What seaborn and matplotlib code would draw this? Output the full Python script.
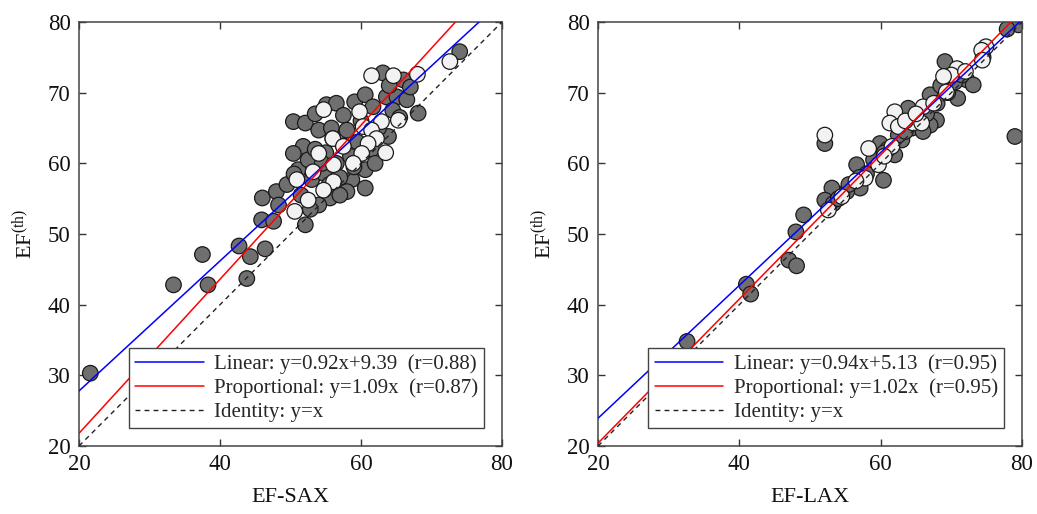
import numpy as np
import pandas as pd
import matplotlib
matplotlib.use("Agg")
import matplotlib.pyplot as plt
import seaborn as sns

# ---- data: ejection fraction estimates (%) ----
# short-axis panel, two patient groups
sax_dark_x = [21.6, 33.4, 37.5, 38.3, 42.7, 43.8, 44.3, 46.4, 45.9, 47.6, 46.0, 48.0, 48.3,
              52.1, 50.4, 52.1, 54.0, 55.8, 55.1, 56.5, 57.5, 58.0, 59.1, 60.6, 61.7, 63.1,
              63.6, 65.1, 66.0, 66.5, 67.0, 68.1, 63.9, 74.0, 51.8, 50.4, 51.1, 53.0, 54.7,
              58.7, 60.6, 60.6, 55.6, 54.0, 49.5, 50.5, 52.5, 53.5, 55.0, 56.5, 57.5, 58.5,
              59.5, 60.0, 61.5, 62.5, 64.5, 65.5, 57.0, 56.0, 53.5, 54.5, 59.0, 62.0, 55.5,
              51.5, 64.0, 58.0, 52.8, 57.0]
sax_dark_y = [30.3, 42.8, 47.1, 42.8, 48.3, 43.7, 46.8, 47.9, 52.0, 51.8, 55.1, 56.0, 54.1,
              51.3, 65.9, 65.7, 64.7, 65.0, 68.3, 68.5, 66.8, 64.7, 68.7, 69.7, 68.0, 72.8,
              69.4, 69.4, 71.8, 69.0, 70.8, 67.1, 63.8, 75.8, 62.4, 61.4, 59.1, 57.7, 58.6,
              57.7, 59.1, 56.5, 55.1, 54.1, 57.0, 58.5, 60.5, 62.0, 61.5, 60.0, 62.5, 61.0,
              63.0, 66.0, 62.0, 65.0, 67.5, 66.5, 58.0, 63.5, 67.0, 60.0, 59.5, 60.0, 57.0,
              55.5, 71.0, 56.0, 53.5, 55.5]
sax_light_x = [72.6, 61.5, 64.6, 68.0, 59.8, 54.7, 65.3, 62.9, 56.0, 60.3, 61.5, 62.2, 61.0,
               57.5, 54.0, 60.1, 58.9, 56.1, 53.2, 50.9, 56.1, 54.7, 52.5, 50.6, 63.5]
sax_light_y = [74.4, 72.4, 72.4, 72.6, 67.3, 67.6, 66.1, 65.9, 63.5, 65.2, 64.7, 63.5, 62.8,
               62.4, 61.4, 61.4, 60.0, 59.8, 58.8, 57.7, 57.4, 56.2, 54.8, 53.2, 61.5]

# long-axis panel, two patient groups
lax_dark_x = [79.5, 77.9, 69.1, 72.2, 73.1, 70.9, 67.0, 63.9, 67.9, 67.0, 63.0, 59.9, 62.0,
              60.4, 56.6, 57.1, 55.2, 53.1, 52.1, 53.3, 49.1, 48.0, 52.1, 79.0, 47.0, 48.1,
              41.0, 41.6, 32.6, 55.5, 58.0, 59.0, 61.0, 62.5, 64.5, 65.5, 66.5, 68.0, 69.5,
              70.5, 71.5, 74.5, 60.5, 57.0, 54.0, 63.5, 66.0, 68.5]
lax_dark_y = [79.6, 79.0, 74.4, 71.8, 71.1, 69.2, 69.7, 67.8, 66.1, 65.4, 63.3, 62.8, 61.2,
              57.6, 59.8, 56.5, 56.0, 56.5, 54.8, 54.3, 52.7, 50.3, 62.8, 63.8, 46.3, 45.5,
              42.9, 41.5, 34.8, 57.0, 58.5, 60.5, 62.0, 64.0, 65.0, 66.5, 67.0, 68.5, 70.0,
              71.5, 72.5, 75.0, 61.5, 58.0, 55.0, 64.5, 64.5, 71.0]
lax_light_x = [74.9, 74.3, 74.4, 70.8, 70.0, 68.9, 69.3, 66.0, 62.0, 61.3, 62.5, 64.6, 65.8,
               61.6, 58.3, 59.7, 57.8, 54.5, 52.6, 52.1, 63.5, 67.5, 60.5, 56.5, 65.0, 72.0]
lax_light_y = [76.5, 76.0, 74.6, 73.4, 72.5, 72.3, 70.1, 68.0, 67.3, 65.7, 65.2, 65.7, 65.7,
               62.4, 62.1, 59.8, 57.9, 55.3, 53.4, 64.0, 66.0, 68.5, 61.0, 57.5, 67.0, 73.0]

# fitted relations: (slope, intercept, r) for linear; (slope, r) for proportional
sax_linear = (0.92, 9.39, 0.88)
sax_prop = (1.09, 0.87)
lax_linear = (0.94, 5.13, 0.95)
lax_prop = (1.02, 0.95)

axis_ticks_x = [20, 40, 60, 80]
axis_ticks_y = [20, 30, 40, 50, 60, 70, 80]

sns.set_theme(style="ticks")
plt.rcParams["font.family"] = ["Liberation Serif", "DejaVu Serif"]
plt.rcParams["mathtext.fontset"] = "custom"
plt.rcParams["mathtext.rm"] = "Liberation Serif"
plt.rcParams["mathtext.it"] = "Liberation Serif:italic"

fig = plt.figure(figsize=(10.37, 5.14), dpi=100)
ax_l = fig.add_axes([0.0762, 0.1323, 0.4079, 0.8249])
ax_r = fig.add_axes([0.5767, 0.1323, 0.4088, 0.8249])

DARK = "#6f6f6f"
LIGHT = "#f2f2f2"
EDGE = "#1a1a1a"


def panel(ax, dx, dy, lx, ly, lin, prop, xlabel):
    df = pd.DataFrame({
        "x": list(dx) + list(lx),
        "y": list(dy) + list(ly),
        "group": ["a"] * len(dx) + ["b"] * len(lx),
    })
    sns.scatterplot(data=df, x="x", y="y", hue="group",
                    palette={"a": DARK, "b": LIGHT}, s=125,
                    edgecolor=EDGE, linewidth=0.9, legend=False, ax=ax, zorder=2)
    xs = np.array([20.0, 80.0])
    ax.plot(xs, lin[0] * xs + lin[1], color="#0000ff", lw=1.1, zorder=3,
            label=f"Linear: y={lin[0]:.2f}x+{lin[1]:.2f}  (r={lin[2]:.2f})")
    ax.plot(xs, prop[0] * xs, color="#ff0000", lw=1.1, zorder=3,
            label=f"Proportional: y={prop[0]:.2f}x  (r={prop[1]:.2f})")
    ax.plot(xs, xs, color="#222222", lw=1.0, ls=(0, (3.5, 3)), zorder=3,
            label="Identity: y=x")
    ax.set_xlim(20, 80)
    ax.set_ylim(20, 80)
    ax.set_xticks(axis_ticks_x)
    ax.set_yticks(axis_ticks_y)
    ax.tick_params(direction="in", length=5, width=1, top=True, right=True,
                   labelsize=16.5, colors="#333333", labelcolor="#111111", pad=6)
    for sp in ax.spines.values():
        sp.set_visible(True)
        sp.set_color("#444444")
        sp.set_linewidth(1.1)
    ax.set_xlabel(xlabel, fontsize=16, color="#111111", labelpad=9)
    ax.set_ylabel(r"EF$^{\mathrm{(th)}}$", fontsize=16, color="#111111", labelpad=8)
    leg = ax.legend(loc="lower right", fontsize=15, frameon=True, fancybox=False,
                    handlelength=3.3, handletextpad=0.5, borderpad=0.3,
                    labelspacing=0.2, borderaxespad=0.85)
    leg.get_frame().set_edgecolor("#444444")
    leg.get_frame().set_linewidth(1.0)
    leg.get_frame().set_alpha(1.0)
    leg.set_zorder(5)


panel(ax_l, sax_dark_x, sax_dark_y, sax_light_x, sax_light_y, sax_linear, sax_prop, "EF-SAX")
panel(ax_r, lax_dark_x, lax_dark_y, lax_light_x, lax_light_y, lax_linear, lax_prop, "EF-LAX")

fig.savefig("out.png", dpi=100)
